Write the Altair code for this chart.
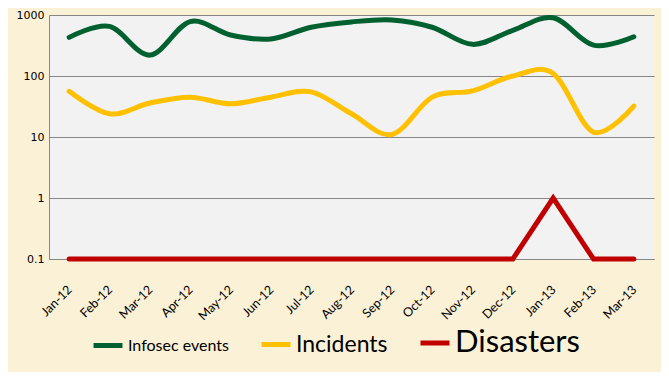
import altair as alt
import pandas as pd

months = ["Jan-12", "Feb-12", "Mar-12", "Apr-12", "May-12", "Jun-12", "Jul-12", "Aug-12",
          "Sep-12", "Oct-12", "Nov-12", "Dec-12", "Jan-13", "Feb-13", "Mar-13"]
infosec = [430, 650, 220, 780, 470, 405, 630, 770, 830, 630, 330, 560, 900, 320, 440]
incidents = [56, 24, 36, 45, 35, 45, 55, 24, 11, 45, 57, 100, 110, 12, 32]
disasters = [0.1, 0.1, 0.1, 0.1, 0.1, 0.1, 0.1, 0.1, 0.1, 0.1, 0.1, 0.1, 1, 0.1, 0.1]
series = ["Infosec events", "Incidents", "Disasters"]
colors = ["#006030", "#FFC000", "#C00000"]
y_ticks = [0.1, 1, 10, 100, 1000]

rows = []
for name, vals in zip(series, [infosec, incidents, disasters]):
    for m, v in zip(months, vals):
        rows.append({"Month": m, "Value": v, "Series": name})
df = pd.DataFrame(rows)

x_enc = alt.X("Month:N", sort=months, scale=alt.Scale(type="point", padding=0.5),
              axis=alt.Axis(title=None, labelAngle=315, ticks=False, grid=False,
                            labelFont="Lato", labelFontSize=12.5, labelColor="#000000",
                            labelPadding=24, labelOffset=-4, domainColor="#868686"))
y_enc = alt.Y("Value:Q", scale=alt.Scale(type="log", domain=[0.1, 1000]),
              axis=alt.Axis(title=None, values=y_ticks, format="~f", ticks=False,
                            labelFont="DejaVu Sans", labelFontSize=11, labelColor="#000000",
                            labelPadding=5, gridColor="#868686", gridWidth=1,
                            domainColor="#868686"))
color_enc = alt.Color("Series:N", scale=alt.Scale(domain=series, range=colors),
                      legend=alt.Legend(
                          title=None, orient="none", direction="horizontal",
                          legendX=42, legendY=311,
                          symbolType="stroke", symbolStrokeWidth=5, symbolSize=841,
                          labelFont="Lato", labelColor="#000000",
                          labelFontSize=alt.ExprRef("datum.label == 'Disasters' ? 31 : (datum.label == 'Incidents' ? 23 : 16)"),
                          labelOffset=3, columnPadding=22, labelLimit=400))

base = alt.Chart(df)
smooth = base.transform_filter("datum.Series != 'Disasters'").mark_line(
    interpolate="cardinal", strokeWidth=5, strokeCap="round", clip=False
).encode(x=x_enc, y=y_enc, color=color_enc)
straight = base.transform_filter("datum.Series == 'Disasters'").mark_line(
    strokeWidth=5, strokeCap="round", clip=False
).encode(x=x_enc, y=y_enc, color=color_enc)

chart = alt.layer(smooth, straight).properties(
    width=605, height=244,
    autosize=alt.AutoSizeParams(type="none"),
    padding={"left": 41, "top": 7, "right": 7, "bottom": 113},
    background="#FBF1D6",
).configure_view(fill="#F2F2F2", stroke=None)

chart.save("out.html", embed_options={"renderer": "svg", "actions": False})
